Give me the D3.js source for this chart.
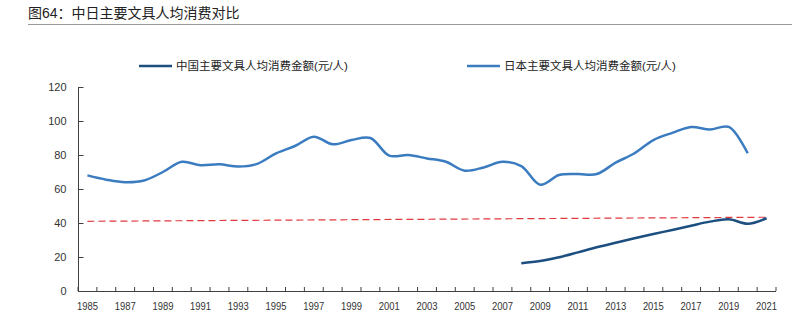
<!DOCTYPE html>
<html>
<head>
<meta charset="utf-8">
<script src="https://cdn.jsdelivr.net/npm/d3@7"></script>
<style>
  body { margin: 0; background: #fff; }
  svg { display: block; font-family: "Liberation Sans", "Noto Sans CJK SC", sans-serif; }
  .axis text { fill: #333; font-size: 11px; }
  .axis path, .axis line { stroke: #404040; }
</style>
</head>
<body>
<svg id="chart" width="805" height="331"></svg>
<script>
// years on the category axis
const years = d3.range(1985, 2022);
const tickYears = years.filter(y => (y - 1985) % 2 === 0);
const yTicks = [0, 20, 40, 60, 80, 100, 120];

// 日本 1985-2020
const japanYears = d3.range(1985, 2021);
const japanValues = [68, 65.5, 64, 65, 70, 76, 74, 74.5, 73.2, 74.8, 81, 85.3, 90.8, 86.3, 88.8, 90,
  79.6, 80, 78, 76, 70.8, 72.7, 76, 73.5, 62.5, 68.2, 68.8, 68.8, 75.5, 81, 88.8, 93, 96.5, 95, 96.5, 81];

// 中国 2008-2021
const chinaYears = d3.range(2008, 2022);
const chinaValues = [16.3, 17.6, 19.8, 22.7, 25.7, 28.4, 31, 33.5, 35.9, 38.4, 40.8, 42.2, 39.6, 42.8];

// red dashed trend, start and end
const trendYears = [1985, 2021];
const trendValues = [41, 43.4];

const svg = d3.select('#chart');

// title + rule
svg.append('text')
  .attr('x', 28).attr('y', 18)
  .attr('font-size', 14)
  .attr('fill', '#222')
  .text('图64：中日主要文具人均消费对比');
svg.append('line')
  .attr('x1', 28).attr('x2', 792)
  .attr('y1', 24.5).attr('y2', 24.5)
  .attr('stroke', '#999').attr('stroke-width', 1);

const plot = { left: 78, right: 776, top: 87, bottom: 291 };

const x = d3.scaleBand()
  .domain(years)
  .range([plot.left, plot.right]);

const y = d3.scaleLinear()
  .domain([0, 120])
  .range([plot.bottom, plot.top]);

const cx = d => x(d) + x.bandwidth() / 2;

// x axis: ticks sit between categories, pointing up
const xAxis = svg.append('g').attr('class', 'axis');
xAxis.append('line')
  .attr('x1', plot.left).attr('x2', plot.right)
  .attr('y1', plot.bottom + 0.5).attr('y2', plot.bottom + 0.5);
xAxis.selectAll('.tk')
  .data(years.concat([2022]))
  .join('line')
  .attr('class', 'tk')
  .attr('x1', d => d === 2022 ? plot.right : x(d))
  .attr('x2', d => d === 2022 ? plot.right : x(d))
  .attr('y1', plot.bottom).attr('y2', plot.bottom - 4);
xAxis.selectAll('text')
  .data(tickYears)
  .join('text')
  .attr('x', d => cx(d))
  .attr('y', 310)
  .attr('text-anchor', 'middle')
  .attr('textLength', 21)
  .attr('lengthAdjust', 'spacingAndGlyphs')
  .text(d => d);

// y axis, ticks inside
const yAxis = svg.append('g')
  .attr('class', 'axis')
  .attr('transform', `translate(${plot.left + 0.5},0)`)
  .call(d3.axisLeft(y).tickValues(yTicks).tickSizeInner(-5).tickSizeOuter(0).tickPadding(12));
yAxis.select('.domain').attr('d', `M0,${plot.top}V${plot.bottom}`);

const line = d3.line()
  .x(d => cx(d[0]))
  .y(d => y(d[1]))
  .curve(d3.curveCatmullRom.alpha(0.5));

// trend line
svg.append('path')
  .datum(d3.zip(trendYears, trendValues))
  .attr('d', d3.line().x(d => cx(d[0])).y(d => y(d[1])))
  .attr('fill', 'none')
  .attr('stroke', '#e0393e')
  .attr('stroke-width', 1.2)
  .attr('stroke-dasharray', '7,4');

svg.append('path')
  .datum(d3.zip(japanYears, japanValues))
  .attr('d', line)
  .attr('fill', 'none')
  .attr('stroke', '#3b7cc0')
  .attr('stroke-width', 2.5);

svg.append('path')
  .datum(d3.zip(chinaYears, chinaValues))
  .attr('d', line)
  .attr('fill', 'none')
  .attr('stroke', '#1c4f80')
  .attr('stroke-width', 2.5);

// legend
const legend = [
  { name: '中国主要文具人均消费金额(元/人)', color: '#1c4f80', x: 139 },
  { name: '日本主要文具人均消费金额(元/人)', color: '#3b7cc0', x: 467 }
];
const lg = svg.append('g').selectAll('g')
  .data(legend)
  .join('g')
  .attr('transform', d => `translate(${d.x},66)`);
lg.append('line')
  .attr('x1', 0).attr('x2', 33)
  .attr('stroke', d => d.color)
  .attr('stroke-width', 2.5);
lg.append('text')
  .attr('x', 37).attr('y', 4)
  .attr('font-size', 11.5)
  .attr('fill', '#222')
  .text(d => d.name);
</script>
</body>
</html>
